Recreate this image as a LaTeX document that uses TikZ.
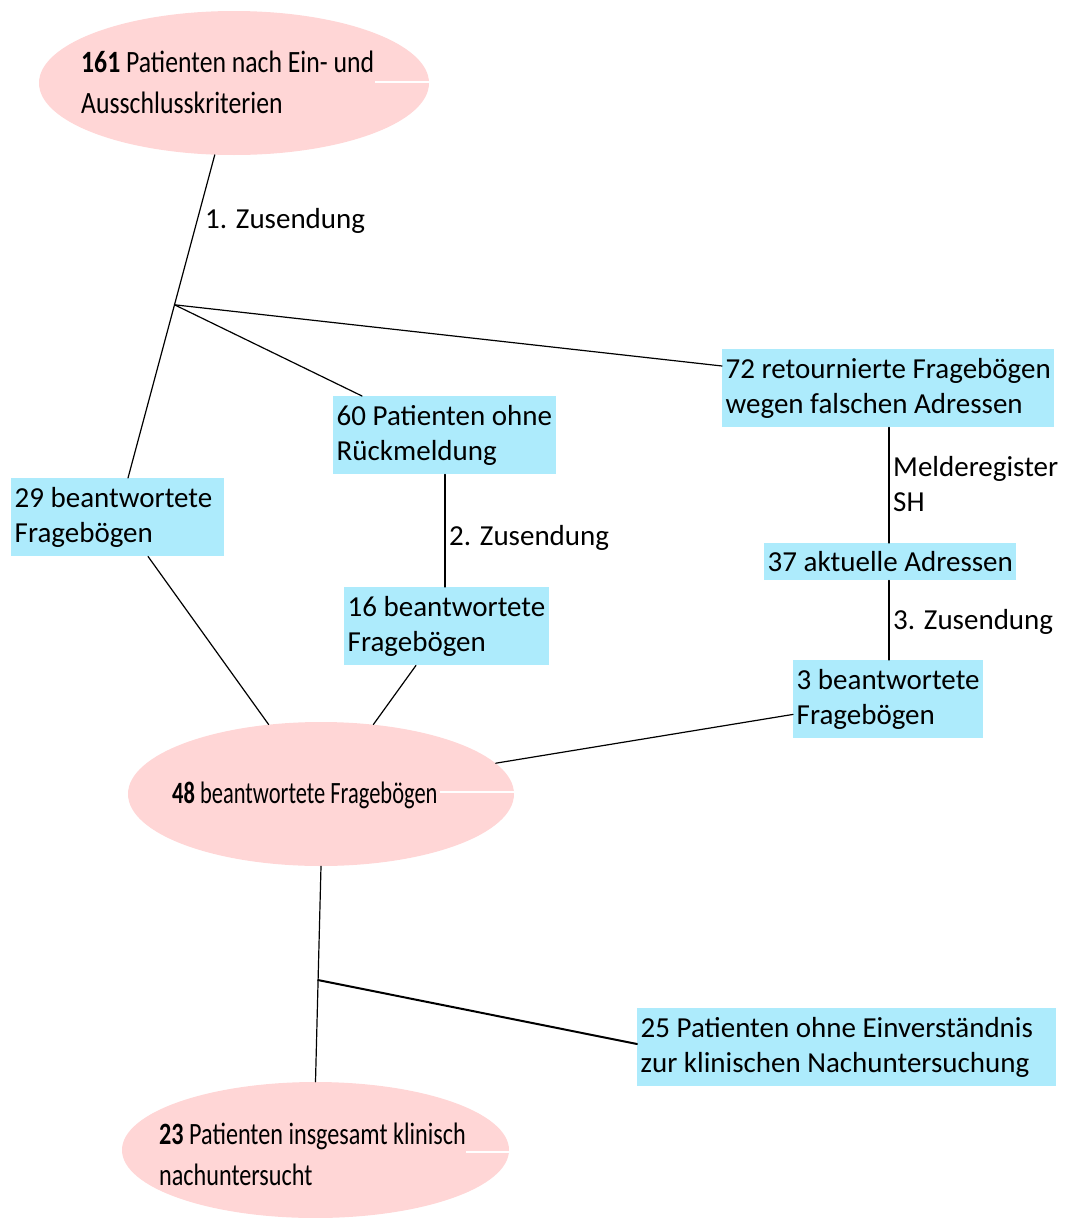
\documentclass[tikz,border=0pt]{standalone}
\usepackage{fontspec}
\setmainfont{Carlito}
% condensed cuts of the same face for the oval stages
\newfontfamily\ovalfontA[FakeStretch=0.83]{Carlito}
\newfontfamily\ovalfontB[FakeStretch=0.725]{Carlito}
\newfontfamily\ovalfontC[FakeStretch=0.78]{Carlito}
\usetikzlibrary{shapes.geometric,calc}
\definecolor{boxcyan}{RGB}{173,235,252}
\definecolor{ovalpink}{RGB}{255,214,214}

\begin{document}
\begin{tikzpicture}[x=1pt,y=-1pt,
  stagebox/.style={fill=boxcyan, align=left, anchor=north west,
    inner xsep=3.5pt, inner ysep=0pt, minimum height=78pt,
    font=\fontsize{29}{35}\selectfont},
  oval/.style={ellipse, fill=ovalpink, inner sep=0pt},
  ovaltext/.style={anchor=west, inner sep=0pt, align=left},
  lbl/.style={anchor=west, inner sep=0pt, align=left,
    font=\fontsize{29}{35}\selectfont},
  link/.style={line width=1.2pt, line cap=round},
  boldlink/.style={line width=2pt, line cap=round},
  gap/.style={white, line width=2pt}]

\useasboundingbox (0,0) rectangle (1065,1218);

% ovals
\node[oval, minimum width=390pt, minimum height=144pt] (e1) at (234,83) {};
\node[oval, minimum width=386pt, minimum height=144pt] (e2) at (321,794) {};
\node[oval, minimum width=387pt, minimum height=136pt] (e3) at (315.5,1150) {};

% oval captions
\node[ovaltext, font={\ovalfontA\fontsize{31}{41}\selectfont}] (t1) at (81,82)
  {{\bfseries 161} Patienten nach Ein- und\\Ausschlusskriterien};
\node[ovaltext, font={\ovalfontB\fontsize{31}{41}\selectfont}] (t2) at (172,795)
  {{\bfseries 48} beantwortete Fragebögen};
\node[ovaltext, font={\ovalfontC\fontsize{31}{41}\selectfont}] (t3) at (159,1154)
  {{\bfseries 23} Patienten insgesamt klinisch\\nachuntersucht};

% thin white strokes across the ovals
\draw[gap] ([yshift=1pt]e1.east) -- ++(-54,0);
\draw[gap] ([yshift=2pt]e2.east) -- ++(-74,0);
\draw[gap] ([yshift=-2pt]e3.east) -- ++(-43,0);

% boxes (an invisible strut widens a box past its text)
\node[stagebox] (b29) at (11,478) {29 beantwortete\rule{8pt}{0pt}\\Fragebögen};
\node[stagebox] (b60) at (333,396) {60 Patienten ohne\\Rückmeldung};
\node[stagebox] (b72) at (722,349) {72 retournierte Fragebögen\\wegen falschen Adressen};
\node[stagebox] (b16) at (344,587) {16 beantwortete\\Fragebögen};
\node[stagebox, minimum height=37pt] (b37) at (764,543) {37 aktuelle Adressen};
\node[stagebox] (b3) at (793,660) {3 beantwortete\\Fragebögen};
\node[stagebox] (b25) at (637,1008) {25 Patienten ohne Einverständnis\rule{20pt}{0pt}\\zur klinischen Nachuntersuchung};

% first mailing and its three outcomes
\coordinate (t29) at ([xshift=117pt]b29.north west);
\coordinate (split1) at ($(e1.255)!0.464!(t29)$);
\draw[link] (e1.255) -- (t29);
\draw[link] (split1) -- ([xshift=29pt]b60.north west);
\draw[link] (split1) -- ([yshift=-17pt]b72.north west);
\node[lbl] (l1) at (205,221) {1. Zusendung};

% second mailing
\coordinate (m60) at ([xshift=112pt]b60.south west);
\draw[link] (m60) -- (m60 |- b16.north);
\node[lbl] (l2) at (449,538) {2. Zusendung};

% address lookup and third mailing
\coordinate (m72) at ([xshift=167pt]b72.south west);
\draw[link] (m72) -- (m72 |- b37.north);
\draw[link] (m72 |- b37.south) -- (m72 |- b3.north);
\node[lbl] (l3) at (893,484) {Melderegister\\SH};
\node[lbl] (l4) at (893,622) {3. Zusendung};

% answered questionnaires collected
\draw[link] ([xshift=137pt]b29.south west) -- (e2.127);
\draw[link] ([xshift=72pt]b16.south west) -- (e2.53);
\draw[link] ([yshift=24pt]b3.south west) -- (e2.10);

% clinical follow-up
\coordinate (split2) at ($(e2.south)!0.528!(e3.north)$);
\draw[link] (e2.south) -- (e3.north);
\draw[boldlink] (split2) -- ([yshift=-36pt]b25.north west);

\end{tikzpicture}
\end{document}
